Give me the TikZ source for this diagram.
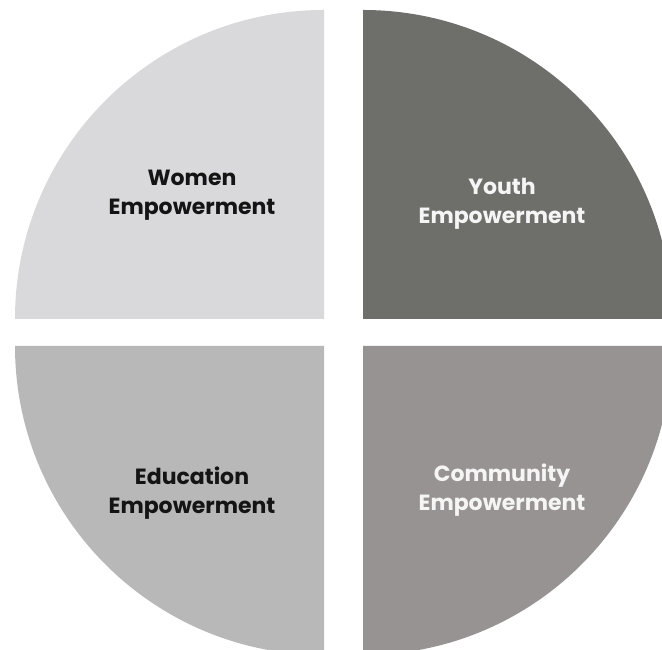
\documentclass[tikz,border=0pt]{standalone}
\usepackage{fontspec}
\setsansfont{Poppins}
\usepackage{tikz}

\definecolor{womengray}{HTML}{D9D8DA}
\definecolor{youthgray}{HTML}{6E6E6A}
\definecolor{edugray}{HTML}{B9B8B9}
\definecolor{commgray}{HTML}{989393}

\tikzset{
  quarter/.style={draw=none},
  darklabel/.style={align=center,text=black!92,font=\sffamily\bfseries\fontsize{22}{29}\selectfont},
  lightlabel/.style={darklabel,text=white!96!black}
}

\begin{document}
\begin{tikzpicture}[x=1pt,y=1pt]
	    \fill[white] (0,0) rectangle (662,650);
	    \clip (0,0) rectangle (662,650);

	    % four quarters with a white cross between them
	    \fill[quarter,womengray] (324,331) -- (15,331) arc[start angle=180,end angle=90,radius=309] -- cycle;
	    \fill[quarter,youthgray] (363,331) -- (363,640) arc[start angle=90,end angle=0,radius=309] -- cycle;
	    \fill[quarter,edugray] (324,304) -- (324,-5) arc[start angle=270,end angle=180,radius=309] -- cycle;
	    \fill[quarter,commgray] (363,304) -- (672,304) arc[start angle=0,end angle=-90,radius=309] -- cycle;

	    \node[darklabel] (women) at (192,455) {Women\\Empowerment};
	    \node[lightlabel] (youth) at (502,446) {Youth\\Empowerment};
	    \node[darklabel] (education) at (192,157) {Education\\Empowerment};
	    \node[lightlabel] (community) at (502,160) {Community\\Empowerment};
\end{tikzpicture}
\end{document}
